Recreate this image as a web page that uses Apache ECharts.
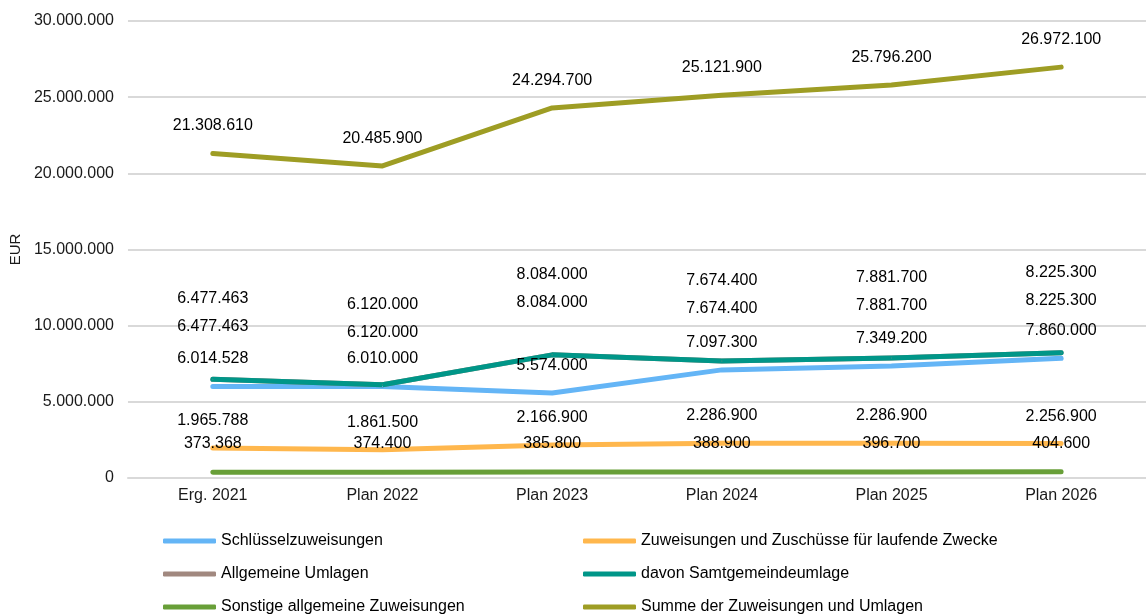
<!DOCTYPE html>
<html>
<head>
<meta charset="utf-8">
<script src="https://cdn.jsdelivr.net/npm/echarts@6/dist/echarts.min.js"></script>
<style>
  html, body { margin: 0; padding: 0; background: #fff; }
  #chart { width: 1146px; height: 616px; }
</style>
</head>
<body>
<div id="chart"></div>
<script>
// Kategorien (x-Achse)
const categories = ["Erg. 2021", "Plan 2022", "Plan 2023", "Plan 2024", "Plan 2025", "Plan 2026"];

// Werte in EUR
const schluesselzuweisungen = [6014528, 6010000, 5574000, 7097300, 7349200, 7860000];
const zuweisungenLaufend = [1965788, 1861500, 2166900, 2286900, 2286900, 2256900];
const allgemeineUmlagen = [6477463, 6120000, 8084000, 7674400, 7881700, 8225300];
const samtgemeindeumlage = [6477463, 6120000, 8084000, 7674400, 7881700, 8225300];
const sonstigeZuweisungen = [373368, 374400, 385800, 388900, 396700, 404600];
const summe = [21308610, 20485900, 24294700, 25121900, 25796200, 26972100];

// y-Achse
const yMin = 0;
const yMax = 30000000;
const yStep = 5000000;

const fmt = (v) => String(v).replace(/\B(?=(\d{3})+(?!\d))/g, ".");

const makeSeries = (name, data, color, labelDist) => ({
  name: name,
  type: "line",
  data: data,
  symbol: "circle",
  symbolSize: 1,
  itemStyle: { color: color },
  lineStyle: { color: color, width: 5, cap: "round", join: "round" },
  label: {
    show: true,
    position: "top",
    distance: labelDist,
    color: "#000",
    fontSize: 16,
    fontFamily: "Liberation Sans, Arial, sans-serif",
    formatter: (p) => fmt(p.value),
  },
  emphasis: { disabled: true },
  animation: false,
});

// Legende in zwei Spalten
const legendBase = {
  orient: "vertical",
  top: 528,
  height: 90,
  icon: "roundRect",
  itemWidth: 53,
  itemHeight: 5,
  itemGap: 17,
  textStyle: { fontSize: 16, color: "#000" },
};

const chart = echarts.init(document.getElementById("chart"));
chart.setOption({
  backgroundColor: "#fff",
  textStyle: { fontFamily: "Liberation Sans, Arial, sans-serif" },
  grid: { left: 127, right: -4, top: 21, bottom: 138, containLabel: false },
  legend: [
    Object.assign({}, legendBase, {
      left: 158,
      data: ["Schlüsselzuweisungen", "Allgemeine Umlagen", "Sonstige allgemeine Zuweisungen"],
    }),
    Object.assign({}, legendBase, {
      left: 578,
      data: ["Zuweisungen und Zuschüsse für laufende Zwecke", "davon Samtgemeindeumlage", "Summe der Zuweisungen und Umlagen"],
    }),
  ],
  xAxis: {
    type: "category",
    data: categories,
    boundaryGap: true,
    axisLine: { show: true, lineStyle: { color: "#d9d9d9", width: 2 } },
    axisTick: { show: false },
    axisLabel: { fontSize: 16, color: "#1a1a1a", margin: 10 },
  },
  yAxis: {
    type: "value",
    min: yMin,
    max: yMax,
    interval: yStep,
    name: "EUR",
    nameLocation: "middle",
    nameGap: 104,
    nameRotate: 90,
    nameTextStyle: { fontSize: 15, color: "#1a1a1a" },
    axisLine: { show: false },
    axisTick: { show: false },
    axisLabel: { fontSize: 16, color: "#1a1a1a", margin: 14, formatter: (v) => fmt(v) },
    splitLine: { lineStyle: { color: "#d9d9d9", width: 2 } },
  },
  series: [
    makeSeries("Schlüsselzuweisungen", schluesselzuweisungen, "#64B5F6", 19),
    makeSeries("Zuweisungen und Zuschüsse für laufende Zwecke", zuweisungenLaufend, "#FFB74D", 19),
    makeSeries("Allgemeine Umlagen", allgemeineUmlagen, "#A1887F", 72),
    makeSeries("davon Samtgemeindeumlage", samtgemeindeumlage, "#009688", 44),
    makeSeries("Sonstige allgemeine Zuweisungen", sonstigeZuweisungen, "#689F38", 20),
    makeSeries("Summe der Zuweisungen und Umlagen", summe, "#9E9D24", 19),
  ],
});
</script>
</body>
</html>
